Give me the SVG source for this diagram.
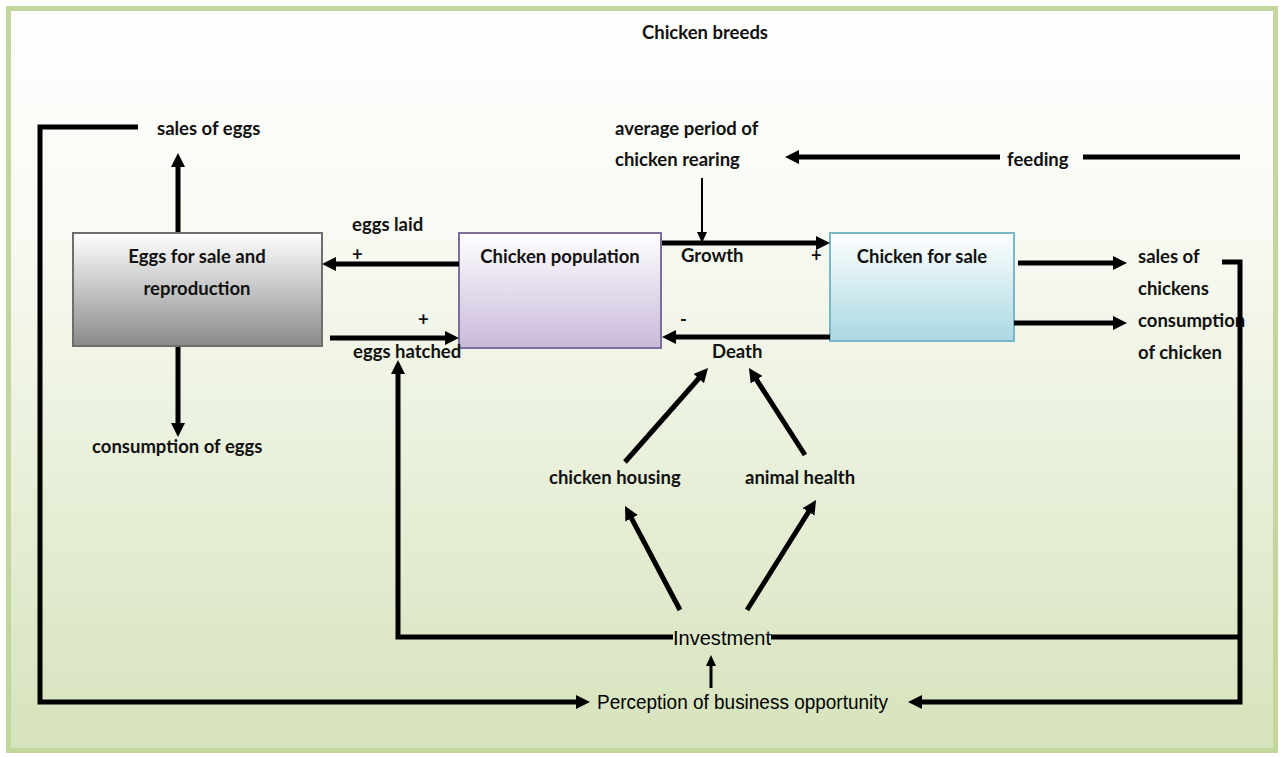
<svg xmlns="http://www.w3.org/2000/svg" width="1280" height="757" viewBox="0 0 1280 757">
<defs>
<linearGradient id="bg" x1="0" y1="0" x2="0" y2="1">
<stop offset="0" stop-color="#ffffff"/>
<stop offset="0.3" stop-color="#f8faf3"/>
<stop offset="1" stop-color="#d6e3bc"/>
</linearGradient>
<linearGradient id="gGrey" x1="0" y1="0" x2="0" y2="1">
<stop offset="0" stop-color="#ffffff"/>
<stop offset="1" stop-color="#8a8a8a"/>
</linearGradient>
<linearGradient id="gPurple" x1="0" y1="0" x2="0" y2="1">
<stop offset="0" stop-color="#ffffff"/>
<stop offset="1" stop-color="#c9b9da"/>
</linearGradient>
<linearGradient id="gBlue" x1="0" y1="0" x2="0" y2="1">
<stop offset="0" stop-color="#ffffff"/>
<stop offset="1" stop-color="#a9d8e2"/>
</linearGradient>
<marker id="ah" markerUnits="userSpaceOnUse" markerWidth="16" markerHeight="16" refX="4" refY="7" orient="auto">
<path d="M0,0 L14,7 L0,14 z" fill="#000"/>
</marker>
<marker id="ahs" markerUnits="userSpaceOnUse" markerWidth="12" markerHeight="12" refX="3" refY="5" orient="auto">
<path d="M0,0 L11,5 L0,10 z" fill="#000"/>
</marker>
</defs>
<style>
.t{font-family:Lato,"Open Sans","Liberation Sans",sans-serif;font-size:18.5px;font-weight:bold;fill:#111;}
.c{text-anchor:middle;}
.n{font-family:"Liberation Sans",Lato,sans-serif;font-size:20px;fill:#000;}
.w{fill:none;stroke:#000;stroke-width:5;}
.a{marker-end:url(#ah);}
</style>
<rect x="8.5" y="8.5" width="1267" height="742" fill="url(#bg)" stroke="#c3d69b" stroke-width="5"/>
<text class="t c" x="705" y="39" font-size="17.5">Chicken breeds</text>

<g id="eggs">
<rect x="73" y="233" width="249" height="113" fill="url(#gGrey)" stroke="#6e6e6e" stroke-width="2"/>
<text class="t c" x="197" y="263">Eggs for sale and</text>
<text class="t c" x="197" y="295">reproduction</text>
</g>
<g id="chickenpop">
<rect x="459" y="233" width="202" height="115" fill="url(#gPurple)" stroke="#7f6e9c" stroke-width="2"/>
<text class="t c" x="560" y="263">Chicken population</text>
</g>
<g id="chickensale">
<rect x="830" y="233" width="184" height="108" fill="url(#gBlue)" stroke="#78b6c8" stroke-width="2"/>
<text class="t c" x="922" y="263">Chicken for sale</text>
</g>
<g id="salesEggs"><text class="t" x="157" y="135">sales of eggs</text></g>
<g id="consEggs"><text class="t" x="92" y="453">consumption of eggs</text></g>
<g id="avgPeriod"><text class="t" x="615" y="135">average period of</text><text class="t" x="615" y="166">chicken rearing</text></g>
<g id="feeding"><text class="t" x="1007" y="166">feeding</text></g>
<g id="salesChickens"><text class="t" x="1138" y="263">sales of</text><text class="t" x="1138" y="295">chickens</text></g>
<g id="consChicken"><text class="t" x="1138" y="327">consumption</text><text class="t" x="1138" y="359">of chicken</text></g>
<g id="housing"><text class="t" x="549" y="484">chicken housing</text></g>
<g id="health"><text class="t" x="745" y="484">animal health</text></g>
<g id="investment"><text class="n" x="673" y="645" textLength="98" lengthAdjust="spacingAndGlyphs">Investment</text></g>
<g id="perception"><text class="n" x="597" y="709" textLength="291" lengthAdjust="spacingAndGlyphs">Perception of business opportunity</text></g>

<g id="connectors">
<line class="w a" x1="178" y1="232" x2="178" y2="163"/>
<line class="w a" x1="178" y1="347" x2="178" y2="427"/>
<polyline class="w a" points="138,127 40,127 40,702 580,702"/>
<polyline class="w a" points="1222,262 1240,262 1240,702 918,702"/>
<line class="w a" x1="459" y1="264" x2="332" y2="264"/>
<line class="w a" x1="330" y1="338" x2="449" y2="338"/>
<line class="w a" x1="662" y1="243" x2="820" y2="243"/>
<line x1="702" y1="178" x2="702" y2="235" stroke="#000" stroke-width="2" marker-end="url(#ahs)"/>
<line class="w" x1="1240" y1="157" x2="1083" y2="157"/>
<line class="w a" x1="1000" y1="157" x2="795" y2="157"/>
<line class="w a" x1="830" y1="337" x2="672" y2="337"/>
<line class="w a" x1="625" y1="462" x2="701.4" y2="375.5"/>
<line class="w a" x1="805" y1="455" x2="754.4" y2="376.4"/>
<line class="w a" x1="680" y1="610" x2="629.7" y2="514.8"/>
<line class="w a" x1="747" y1="610" x2="810.7" y2="508.5"/>
<polyline class="w a" points="673,637 398,637 398,370"/>
<line class="w" x1="771" y1="637" x2="1240" y2="637"/>
<line x1="711" y1="688" x2="711" y2="663" stroke="#000" stroke-width="3" marker-end="url(#ahs)"/>
<line class="w a" x1="1018" y1="263" x2="1117" y2="263"/>
<line class="w a" x1="1014" y1="323" x2="1117" y2="323"/>
</g>
<g id="labels">
<text class="t" x="352" y="231">eggs laid</text>
<text class="t" x="352" y="261">+</text>
<text class="t" x="418" y="326">+</text>
<text class="t" x="353" y="358">eggs hatched</text>
<text class="t" x="681" y="262">Growth</text>
<text class="t" x="811" y="262">+</text>
<text class="t" x="680" y="326">-</text>
<text class="t" x="712" y="358">Death</text>
</g>
</svg>
